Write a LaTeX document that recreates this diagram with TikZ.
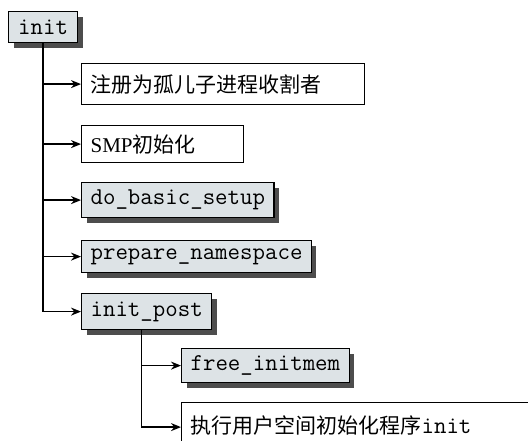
\documentclass[tikz,border=0pt]{standalone}
\usepackage{fontspec}
\setmainfont{Liberation Serif}
\newfontfamily\cjk{Noto Sans CJK SC}
\usetikzlibrary{arrows.meta,shadows}

\definecolor{boxfill}{HTML}{DDE3E6}
\definecolor{shadegray}{HTML}{4D4D4D}

\newcommand{\codefont}{\fontsize{24.2}{28}\selectfont\ttfamily}

\tikzset{
  plainbox/.style={draw, fill=white, line width=1.2pt, anchor=north west,
    inner xsep=9pt, inner ysep=0pt, align=left,
    font=\fontsize{21}{25}\selectfont},
  funcbox/.style={plainbox, fill=boxfill, font=\codefont,
    drop shadow={shadow xshift=5pt, shadow yshift=-5pt, fill=shadegray, opacity=1}},
  link/.style={->, line width=1.4pt}
}

\begin{document}
\begin{tikzpicture}[x=1pt, y=-1pt, >={Stealth[length=10pt,width=8pt]}]
    \clip (0,0) rectangle (528,441);
    \fill[white] (0,0) rectangle (528,441);

    % --- 上层: init ---
    \node[funcbox, minimum width=69pt, minimum height=31pt, inner xsep=0pt] (init) at (8,11) {init};

    \node[plainbox, text width=265pt, minimum height=41pt] (reg) at (81,63) {\cjk 注册为孤儿子进程收割者};
    \node[plainbox, text width=144pt, minimum height=37pt] (smp) at (81,125) {SMP\cjk 初始化};
    \node[funcbox, minimum height=35pt] (setup) at (81,182) {do\_basic\_setup};
    \node[funcbox, minimum height=32pt] (prep) at (81,240) {prepare\_namespace};
    \node[funcbox, minimum height=36pt] (post) at (81,293) {init\_post};

    \draw[link] (init.south) |- (reg.west);
    \draw[link] (init.south) |- (smp.west);
    \draw[link] (init.south) |- (setup.west);
    \draw[link] (init.south) |- (prep.west);
    \draw[link] (init.south) |- (post.west);

    % --- 下层: init_post ---
    \node[funcbox, minimum height=34pt] (free) at (181,348) {free\_initmem};
    \node[plainbox, text width=342pt, minimum height=45pt] (exec) at (181,402) {{\cjk 执行用户空间初始化程序}{\codefont init}};

    \coordinate (postfoot) at ([xshift=-5pt]post.south);
    \draw[link] (postfoot) |- (free.west);
    \draw[link] (postfoot) |- ([yshift=-2pt]exec.west);
\end{tikzpicture}
\end{document}
